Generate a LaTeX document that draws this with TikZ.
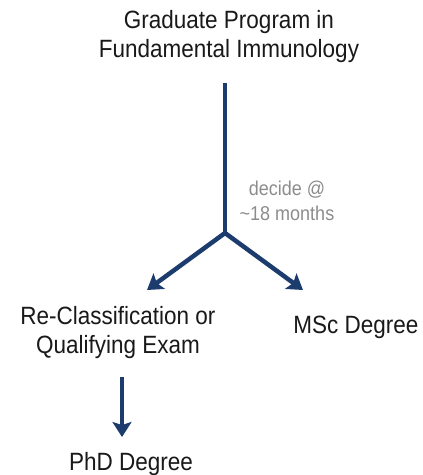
\documentclass[tikz,border=0pt]{standalone}
\usepackage{fontspec}
\setmainfont{Liberation Sans}[FakeStretch=0.9]
\usetikzlibrary{arrows.meta, positioning}
\definecolor{pathblue}{HTML}{1C3C6E}
\definecolor{notegray}{HTML}{8C8C8C}
\tikzset{
	stage/.style={align=center, inner sep=0pt, text=black!90, font=\fontsize{25}{29}\selectfont},
	note/.style={align=center, inner sep=0pt, text=notegray, font=\fontsize{20}{25}\selectfont},
	route/.style={draw=pathblue, line width=4.5pt},
	routearrow/.style={route, -{Stealth[length=15pt, width=19pt, inset=3pt]}}
}

\begin{document}
\begin{tikzpicture}[x=1pt, y=-1pt]
		\useasboundingbox (0,0) rectangle (423,475);
		
		% Program
		\node[stage, anchor=base] (program) at (229,57) {Graduate Program in\\Fundamental Immunology};
		
		% Decision point
		\coordinate (split) at (225,233);
		\node[note, anchor=base] (decide) at (287,220) {decide @\\\textasciitilde18 months};
		
		% Outcomes
		\node[stage, anchor=base] (reclass) at (118,353) {Re-Classification or\\Qualifying Exam};
		\node[stage, anchor=base] (msc) at (356,333) {MSc Degree};
		\node[stage, anchor=base] (phd) at (131,470) {PhD Degree};
		\coordinate (reclasstip) at (147,290);
		\coordinate (msctip) at (303,290);
		
		% Arrows
		\draw[route] (split |- 0,83) -- (split);
		\draw[routearrow] (split) -- (reclasstip);
		\draw[routearrow] (split) -- (msctip);
		\draw[routearrow] ([xshift=4pt]reclass.south |- 0,377) -- ([xshift=4pt]reclass.south |- 0,437);
	\end{tikzpicture}
\end{document}
